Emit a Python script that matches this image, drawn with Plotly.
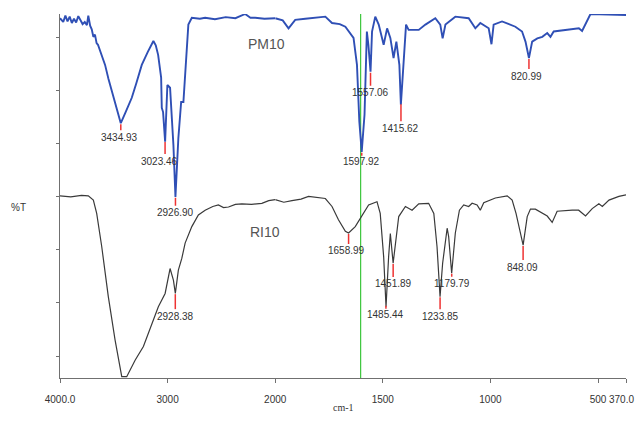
import numpy as np
import plotly.graph_objects as go

# ---------------- data (wavenumber cm-1, %T in arbitrary offset units) -------------
pm_wn = [4000, 3970, 3950, 3930, 3910, 3890, 3870, 3850, 3830, 3810, 3790, 3770, 3750, 3737,
         3720, 3705, 3690, 3675, 3660, 3647, 3615, 3581, 3550, 3516, 3475, 3435, 3390, 3333,
         3290, 3240, 3185, 3132, 3110, 3088, 3060, 3054, 3042, 3023, 3002, 2977, 2946, 2927,
         2900, 2874, 2853, 2837, 2807, 2775, 2700, 2651, 2560, 2460, 2370, 2279, 2230, 2186,
         2100, 2000, 1965, 1938, 1907, 1860, 1810, 1767, 1736, 1700, 1674, 1636, 1620, 1609,
         1598, 1585, 1574, 1567, 1557, 1550, 1535, 1519, 1496, 1480, 1465, 1450, 1437, 1423,
         1416, 1403, 1392, 1380, 1333, 1302, 1256, 1233, 1222, 1209, 1163, 1101, 1070, 1047,
         1008, 995, 985, 946, 884, 853, 837, 821, 806, 782, 759, 736, 721, 706, 651, 589,
         574, 535, 370]
pm_t = [63.7, 63.0, 64.2, 63.1, 64.0, 62.8, 63.6, 62.9, 64.1, 63.2, 62.6, 63.0, 62.4, 64.2,
        62.3, 61.6, 60.2, 60.6, 59.0, 58.7, 56.9, 54.9, 52.3, 49.8, 46.5, 43.9, 46.0, 48.7,
        51.5, 54.9, 57.3, 59.4, 58.6, 56.8, 52.5, 46.8, 46.0, 40.4, 51.1, 50.6, 39.8, 30.0,
        41.1, 47.9, 47.9, 53.6, 62.5, 63.8, 63.6, 63.8, 63.5, 63.9, 63.7, 64.5, 63.8, 63.8,
        63.6, 63.7, 63.3, 61.8, 63.4, 63.6, 63.8, 64.0, 62.8, 62.6, 62.1, 60.0, 54.9, 44.2,
        38.5, 45.5, 61.2, 58.7, 53.6, 61.2, 64.0, 62.5, 58.7, 61.8, 60.0, 56.2, 59.3, 54.9,
        47.4, 56.8, 62.5, 61.5, 61.5, 62.5, 63.7, 62.5, 59.9, 62.5, 64.0, 63.7, 61.8, 62.8,
        61.8, 58.8, 62.5, 63.1, 62.1, 61.2, 59.3, 56.2, 59.3, 59.9, 60.2, 60.9, 60.2, 61.2,
        61.5, 61.8, 61.3, 64.5, 64.3]

ri_wn = [4000, 3900, 3800, 3737, 3690, 3659, 3612, 3551, 3488, 3426, 3380, 3302, 3225, 3147,
         3086, 3023, 2977, 2946, 2928, 2900, 2868, 2837, 2775, 2714, 2651, 2580, 2528, 2480,
         2434, 2370, 2310, 2220, 2124, 2060, 2000, 1960, 1922, 1880, 1845, 1800, 1767, 1736,
         1706, 1674, 1659, 1628, 1600, 1566, 1527, 1512, 1496, 1485, 1473, 1465, 1452, 1442,
         1426, 1395, 1364, 1333, 1287, 1263, 1248, 1234, 1222, 1201, 1194, 1180, 1163, 1144,
         1124, 1101, 1085, 1062, 1047, 1031, 977, 922, 899, 881, 860, 848, 829, 814, 791,
         760, 736, 713, 690, 620, 590, 558, 527, 496, 480, 449, 403, 370]
ri_t = [30.2, 30.0, 30.3, 30.2, 29.4, 26.9, 20.6, 11.2, 3.0, -3.9, -3.9, -0.8, 1.8, 6.2,
        9.3, 11.8, 16.5, 14.3, 11.8, 16.2, 18.4, 21.3, 24.4, 26.6, 27.5, 28.2, 28.5, 28.0,
        28.1, 28.6, 28.7, 28.6, 28.8, 29.3, 29.5, 29.0, 29.3, 29.6, 30.1, 29.8, 29.7, 28.2,
        25.7, 23.5, 23.2, 24.4, 26.3, 28.5, 29.1, 26.9, 18.7, 9.3, 18.7, 23.1, 17.5, 21.3,
        26.3, 28.2, 27.5, 28.7, 28.8, 26.9, 20.6, 11.2, 17.5, 24.1, 22.5, 15.6, 23.2, 27.5,
        28.5, 28.2, 28.8, 28.5, 27.5, 28.9, 29.8, 30.2, 29.4, 26.9, 23.2, 20.9, 26.3, 27.7, 27.7,
        26.9, 26.4, 25.2, 27.3, 27.5, 27.5, 26.4, 27.8, 28.7, 28.2, 29.4, 30.1, 30.4]

pm_peaks = [3434.93, 3023.46, 2926.90, 1597.92, 1557.06, 1415.62, 820.99]
ri_peaks = [2928.38, 1658.99, 1485.44, 1451.89, 1233.85, 1179.79, 848.09]

left_tick_vals = [4000, 3000, 2000]
left_tick_text = ["4000.0", "3000", "2000"]
right_tick_vals = [1500, 1000, 500, 370]
right_tick_text = ["1500", "1000", "500", ""]
end_tick_text = "370.0"
y_tick_vals = [0, 10, 20, 30, 40, 50, 60]
cursor_wn = 1603
BREAK = 2000

# ---------------- styling / layout ----------------
pm_label_off = [14, 20, 16, 10, 21, 25, 18]
pm_label_dx = [-1, -6, 0, 0, 0, 0, -2]
ri_label_off = [23, 18, 10, 21, 20, 11, 22]
ri_label_dx = [0, -2, 0, 0, 0, 0, -1]

SPLIT = 0.3802
BLUE = "#2f4fb5"
DARK = "#3a3a3a"
RED = "#ee3333"
SANS = "Liberation Sans, Arial, sans-serif"


def split(wn, t):
    l = [(w, v) for w, v in zip(wn, t) if w >= BREAK]
    r = [(w, v) for w, v in zip(wn, t) if w <= BREAK]
    return l, r


fig = go.Figure()
for wn, t, col, w, name in [(ri_wn, ri_t, DARK, 1.2, "RI10"), (pm_wn, pm_t, BLUE, 1.9, "PM10")]:
    l, r = split(wn, t)
    fig.add_trace(go.Scatter(x=[p[0] for p in l], y=[p[1] for p in l], mode="lines",
                             line=dict(color=col, width=w), xaxis="x", yaxis="y",
                             name=name, showlegend=False, hoverinfo="skip"))
    fig.add_trace(go.Scatter(x=[p[0] for p in r], y=[p[1] for p in r], mode="lines",
                             line=dict(color=col, width=w), xaxis="x2", yaxis="y",
                             name=name, showlegend=False, hoverinfo="skip"))

shapes = []
annotations = []


def add_peaks(peaks, wn, t, offs, dxs):
    wn_a = np.array(wn[::-1], dtype=float)
    t_a = np.array(t[::-1], dtype=float)
    for pk, off, dx in zip(peaks, offs, dxs):
        v = float(np.interp(pk, wn_a, t_a))
        xr = "x" if pk >= BREAK else "x2"
        shapes.append(dict(type="line", xref=xr, yref="y", x0=pk, x1=pk,
                           ysizemode="pixel", yanchor=v, y0=-1, y1=-max(off - 7, 4),
                           line=dict(color=RED, width=1.5)))
        annotations.append(dict(x=pk, y=v, xref=xr, yref="y", text=f"{pk:.2f}",
                                showarrow=False, yshift=-off, xshift=dx,
                                font=dict(size=10, color="#333333", family=SANS)))


add_peaks(pm_peaks, pm_wn, pm_t, pm_label_off, pm_label_dx)
add_peaks(ri_peaks, ri_wn, ri_t, ri_label_off, ri_label_dx)

shapes.append(dict(type="line", xref="x2", yref="paper", x0=cursor_wn, x1=cursor_wn,
                   y0=0, y1=1, line=dict(color="#3cc63c", width=1.2), layer="below"))

annotations += [
    dict(x=2084, y=58.9, xref="x", yref="y", text="PM10", showarrow=False,
         font=dict(size=14, color="#555555", family=SANS)),
    dict(x=2093, y=23.4, xref="x", yref="y", text="RI10", showarrow=False,
         font=dict(size=14, color="#555555", family=SANS)),
    dict(x=-0.0725, y=28.1, xref="paper", yref="y", text="%T", showarrow=False,
         xanchor="center", yanchor="middle",
         font=dict(size=10, color="#333333", family=SANS)),
    dict(x=1684, y=-0.0824, xref="x2", yref="paper", text="cm-1", showarrow=False,
         xanchor="center", yanchor="middle",
         font=dict(size=10, color="#333333", family="Liberation Serif, Times New Roman, serif")),
    # end tick label, right-aligned to stay inside the page
    dict(x=right_tick_vals[-1], y=-0.0604, xref="x2", yref="paper", text=end_tick_text,
         showarrow=False, xanchor="right", yanchor="middle", xshift=10,
         font=dict(size=10, color="#333333", family=SANS)),
]

axis_common = dict(showline=True, linecolor="#707070", linewidth=1, showgrid=False,
                   zeroline=False, ticks="outside", ticklen=4, tickcolor="#707070",
                   tickfont=dict(size=10, color="#333333", family=SANS),
                   ticklabelstandoff=8, automargin=False)

fig.update_layout(
    width=636, height=422,
    margin=dict(l=60, r=10, t=14, b=44),
    paper_bgcolor="white", plot_bgcolor="white",
    xaxis=dict(domain=[0, SPLIT], range=[4000, BREAK], tickmode="array",
               tickvals=left_tick_vals, ticktext=left_tick_text, anchor="y",
               ticklabeloverflow="allow", **axis_common),
    xaxis2=dict(domain=[SPLIT, 1], range=[BREAK, 370], tickmode="array",
                tickvals=right_tick_vals, ticktext=right_tick_text, anchor="y", **axis_common),
    yaxis=dict(range=[-4.15, 64.5], tickmode="array", tickvals=y_tick_vals,
               showticklabels=False, showline=True, linecolor="#707070", linewidth=1,
               showgrid=False, zeroline=False, ticks="outside", ticklen=3,
               tickcolor="#707070", automargin=False),
    shapes=shapes,
    annotations=annotations,
    showlegend=False,
)

fig.write_html("out.html", config={"displayModeBar": False},
               post_script="document.body.style.margin='0';document.body.style.overflow='hidden';")
